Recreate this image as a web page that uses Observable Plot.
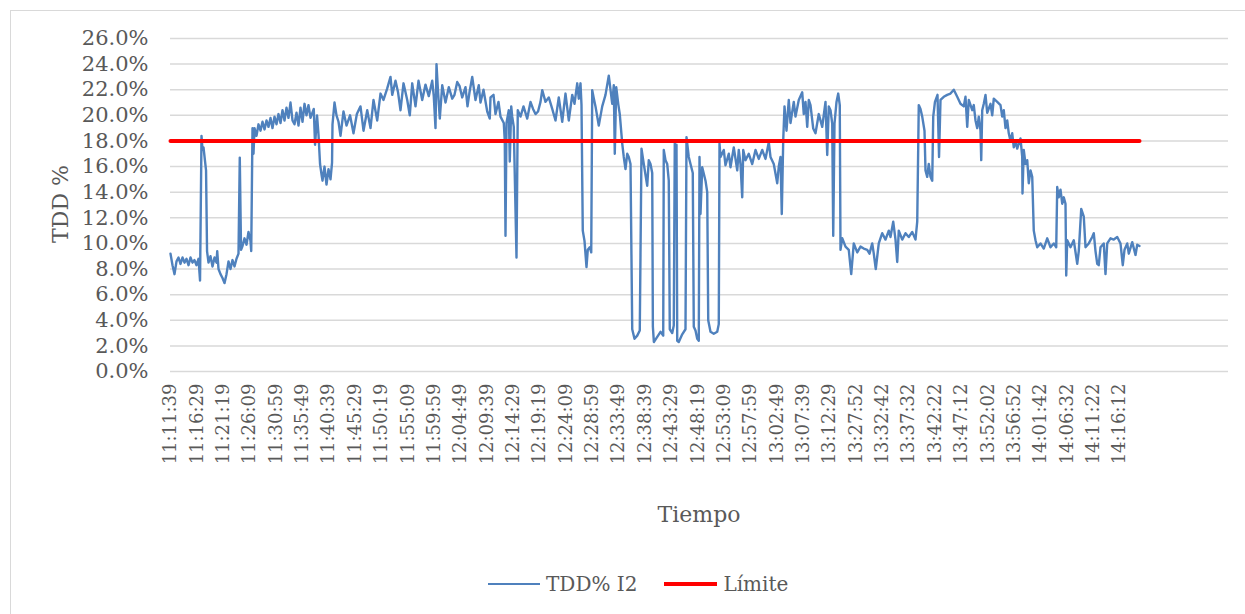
<!DOCTYPE html>
<html><head><meta charset="utf-8">
<script src="https://cdn.jsdelivr.net/npm/d3@7"></script>
<script src="https://cdn.jsdelivr.net/npm/@observablehq/plot@0.6"></script>
<style>
body{margin:0;background:#fff;overflow:hidden;font-family:"DejaVu Serif",serif;color:#595959}
#wrap{position:relative;width:1245px;height:614px;overflow:hidden}
#frame{position:absolute;left:10px;top:10px;width:1260px;height:640px;border:1px solid #d9d9d9}
#chart{position:absolute;left:0;top:0}
#ytitle{position:absolute;left:60px;top:204px;transform:translate(-50%,-50%) rotate(-90deg);font-size:22px;white-space:nowrap}
#xtitle{position:absolute;left:699px;top:514px;transform:translate(-50%,-50%);font-size:22px;white-space:nowrap}
#legend{position:absolute;top:584px;left:488px;transform:translateY(-50%);display:flex;align-items:center;font-size:20px;white-space:nowrap}
.sw{display:inline-block;margin-right:6px}
</style>
</head><body>
<div id="wrap">
<div id="frame"></div>
<div id="chart"></div>
<div id="ytitle">TDD %</div>
<div id="xtitle">Tiempo</div>
<div id="legend">
<span class="sw" style="width:52px;height:2.5px;background:#4F81BD"></span><span>TDD% I2</span>
<span class="sw" style="width:53px;height:4px;background:#FF0000;margin-left:27px"></span><span>Límite</span>
</div>
</div>
<script>
const tickLabels = ["11:11:39","11:16:29","11:21:19","11:26:09","11:30:59","11:35:49","11:40:39","11:45:29","11:50:19","11:55:09","11:59:59","12:04:49","12:09:39","12:14:29","12:19:19","12:24:09","12:28:59","12:33:49","12:38:39","12:43:29","12:48:19","12:53:09","12:57:59","13:02:49","13:07:39","13:12:29","13:27:52","13:32:42","13:37:32","13:42:22","13:47:12","13:52:02","13:56:52","14:01:42","14:06:32","14:11:22","14:16:12"];
const labelStep = 290;
const yTicks = [0,2,4,6,8,10,12,14,16,18,20,22,24,26];
const limite = 18;

const idx = [0,22,44,66,88,110,132,154,176,198,220,242,264,286,308,325,341,352,363,374,391,402,418,440,462,484,506,514,528,550,572,594,616,638,660,682,704,726,748,762,776,792,814,836,858,880,888,902,913,924,946,968,990,1012,1034,1056,1078,1100,1122,1144,1166,1188,1210,1232,1254,1276,1298,1320,1342,1364,1386,1408,1430,1452,1474,1496,1518,1540,1576,1590,1612,1628,1645,1661,1672,1694,1716,1738,1760,1777,1782,1804,1826,1848,1870,1903,1936,1975,2013,2050,2090,2123,2164,2200,2233,2274,2310,2343,2384,2420,2439,2475,2503,2530,2563,2604,2632,2659,2695,2728,2769,2805,2841,2879,2896,2915,2926,2940,2962,2989,3025,3061,3099,3124,3154,3179,3209,3245,3267,3289,3319,3355,3391,3410,3443,3484,3512,3520,3553,3575,3608,3630,3666,3677,3685,3696,3721,3732,3748,3759,3776,3806,3820,3850,3883,3924,3960,3988,4015,4043,4070,4089,4125,4161,4199,4235,4271,4309,4345,4381,4419,4444,4474,4491,4510,4521,4535,4554,4576,4590,4612,4628,4639,4657,4675,4711,4749,4785,4821,4859,4876,4887,4903,4925,4942,4969,4986,5005,5024,5041,5060,5079,5104,5134,5162,5181,5206,5244,5261,5280,5299,5306,5317,5354,5390,5420,5426,5445,5464,5481,5492,5519,5536,5547,5555,5566,5574,5591,5629,5665,5676,5701,5720,5745,5756,5775,5794,5811,5819,5830,5849,5885,5904,5915,5940,5976,6014,6031,6039,6050,6086,6105,6141,6160,6196,6234,6251,6270,6289,6300,6325,6361,6399,6435,6471,6509,6545,6581,6600,6636,6674,6691,6710,6724,6740,6754,6776,6801,6820,6856,6875,6911,6949,6966,6985,7004,7021,7040,7070,7095,7131,7169,7205,7224,7241,7260,7279,7290,7304,7326,7345,7362,7370,7389,7425,7461,7488,7516,7554,7590,7626,7664,7689,7719,7736,7758,7791,7829,7865,7901,7920,7950,7975,7994,8011,8049,8085,8121,8159,8195,8214,8231,8250,8269,8294,8305,8324,8341,8360,8379,8390,8409,8437,8454,8470,8506,8544,8580,8616,8654,8690,8726,8745,8764,8781,8819,8836,8855,8874,8891,8910,8918,8929,8946,8965,8984,9020,9039,9056,9094,9130,9149,9166,9185,9204,9221,9240,9259,9276,9295,9314,9331,9350,9369,9372,9386,9405,9424,9441,9460,9479,9496,9515,9534,9570,9606,9644,9680,9716,9743,9754,9771,9790,9809,9826,9845,9853,9864,9900,9936,9974,9991,10018,10046,10065,10101,10139,10156,10175,10194,10211,10230,10266,10285,10304,10340,10376,10414,10450,10475,10494,10524,10541,10579,10615,10634,10659];

const tdd = [9.2,8.3,7.6,8.6,8.9,8.4,8.9,8.5,8.8,8.3,8.9,8.5,8.7,8.3,8.8,7.1,18.4,17.3,17.5,16.8,15.7,9.4,8.5,9.0,8.2,8.9,8.5,9.4,8.0,7.6,7.3,6.9,7.6,8.6,8.0,8.7,8.2,8.8,9.2,16.7,9.5,9.8,10.4,9.9,10.9,10.2,9.4,19.0,17.0,19.0,18.4,19.3,18.8,19.5,18.9,19.6,19.1,19.8,19.0,19.9,19.3,20.1,19.4,20.4,19.6,20.6,19.8,21.0,19.6,19.3,20.2,19.2,20.6,19.5,20.9,20.0,20.8,19.8,20.5,17.7,20.0,18.5,16.2,15.4,14.9,16.0,14.6,15.8,15.0,16.3,19.3,21.0,20.0,19.5,18.4,20.3,19.2,20.0,18.6,20.1,20.7,18.8,20.4,19.0,21.2,19.6,21.7,21.2,22.1,23.0,21.6,22.7,21.8,20.4,22.5,21.2,20.0,22.5,20.7,22.7,21.2,22.4,21.5,22.7,21.5,19.0,24.0,22.2,19.75,22.35,21.0,22.2,21.3,21.6,22.6,22.3,21.4,22.2,20.7,21.8,23.0,21.2,22.35,21.0,22.0,20.3,19.75,21.4,21.6,20.1,21.05,19.9,19.4,18.0,10.6,19.4,20.4,16.4,20.7,19.9,19.1,8.9,20.4,19.9,20.7,19.75,21.05,20.5,20.1,20.3,21.05,21.97,21.05,21.4,20.5,19.6,21.4,19.5,21.7,19.6,21.6,20.9,22.5,21.3,22.5,20.8,11.0,10.2,8.15,9.5,9.7,9.3,21.97,21.3,20.7,19.2,20.7,21.6,23.1,20.9,22.35,17.0,22.2,20.9,20.1,17.8,16.75,15.8,17.0,16.75,16.2,3.3,2.55,2.8,3.2,17.4,16.2,14.5,16.5,16.2,15.5,3.5,2.3,2.7,3.1,2.8,17.3,16.5,16.2,14.9,3.3,3.0,3.6,17.8,17.0,17.7,2.4,2.3,2.9,3.3,18.3,16.75,16.2,15.5,3.5,3.2,2.55,2.4,16.75,12.3,15.95,14.9,14.0,4.0,3.1,2.95,3.1,3.7,17.8,16.75,17.3,16.1,17.0,15.95,17.5,15.7,17.3,16.2,13.6,17.3,16.5,17.0,16.2,17.3,16.6,17.3,16.6,17.9,16.75,16.2,14.7,16.0,16.75,12.3,18.05,20.7,18.8,21.2,19.4,21.05,19.9,21.2,21.8,20.1,21.05,19.1,21.2,20.8,18.97,18.6,20.1,19.1,21.05,16.9,20.7,20.4,19.35,10.6,19.35,21.05,21.7,20.8,9.5,10.4,9.75,9.5,7.6,10.0,9.3,9.75,9.6,9.5,9.2,10.0,9.2,8.0,10.0,10.8,10.3,11.0,10.5,11.7,10.3,8.55,11.0,10.3,10.8,10.5,10.9,10.3,11.7,20.8,20.5,19.9,18.8,15.7,15.2,16.2,15.2,14.9,19.9,21.05,21.6,16.75,21.2,21.45,21.6,21.7,22.0,21.45,20.9,20.7,21.45,19.1,21.2,20.4,20.8,19.6,19.0,19.9,18.8,16.5,20.4,20.9,21.6,20.2,20.9,20.0,21.3,21.05,20.8,19.9,20.4,19.0,19.6,18.6,18.0,18.6,17.5,18.0,17.4,17.8,18.2,16.75,13.9,17.3,16.2,16.5,14.7,15.7,15.2,11.0,10.25,9.7,10.0,9.6,10.4,9.7,10.0,9.7,14.4,13.6,14.2,13.1,13.6,13.1,7.5,10.25,9.7,10.25,8.4,9.4,12.7,12.1,9.7,10.0,10.5,10.8,9.4,8.4,8.3,9.7,10.0,7.6,10.0,10.4,10.3,10.5,10.0,8.3,9.5,10.0,9.2,10.1,9.1,9.9,9.8];

const series = idx.map((i, k) => ({i, v: tdd[k]}));
const limitRows = [{i: idx[0], v: limite}, {i: idx[idx.length - 1], v: limite}];
const tickIdx = tickLabels.map((_, k) => k * labelStep);

const chart = Plot.plot({
  width: 1245,
  height: 480,
  marginLeft: 170,
  marginRight: 17,
  marginTop: 38,
  marginBottom: 109,
  x: {domain: [0, 11638]},
  y: {domain: [0, 26]},
  style: {fontFamily: "DejaVu Serif", color: "#595959", background: "transparent", overflow: "visible"},
  marks: [
    Plot.ruleY(yTicks, {stroke: "#d9d9d9", strokeWidth: 1.5}),
    Plot.axisY({ticks: yTicks, tickFormat: d => d.toFixed(1) + "%", tickSize: 0, tickPadding: 22, fontSize: 21, label: null}),
    Plot.axisX({ticks: tickIdx, tickFormat: d => tickLabels[Math.round(d / labelStep)], tickRotate: -90, tickSize: 0, tickPadding: 12, fontSize: 18, label: null}),
    Plot.line(series, {x: "i", y: "v", stroke: "#4F81BD", strokeWidth: 2.4, strokeLinejoin: "round"}),
    Plot.line(limitRows, {x: "i", y: "v", stroke: "#FF0000", strokeWidth: 4})
  ]
});
document.getElementById("chart").appendChild(chart);
</script>
</body></html>
